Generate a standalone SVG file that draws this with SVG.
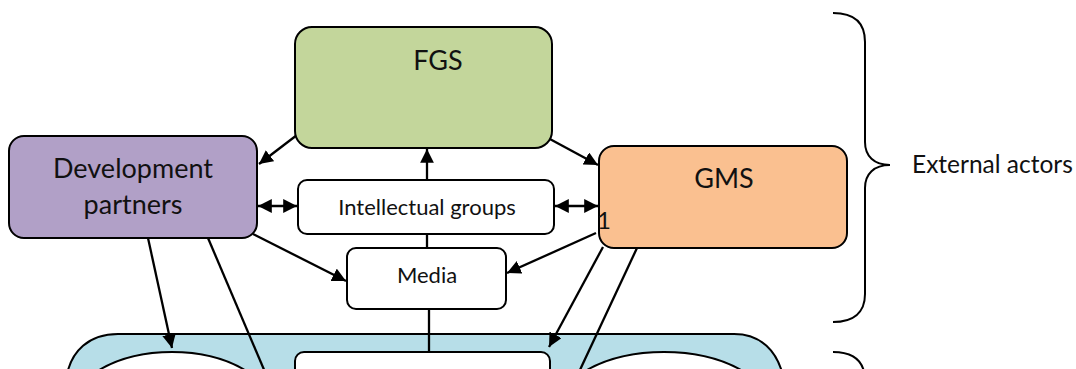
<svg xmlns="http://www.w3.org/2000/svg" width="1076" height="369" viewBox="0 0 1076 369">
  <style>
    .box { stroke: #000; stroke-width: 2; }
    .lbl { font-family: Lato, "Liberation Sans", sans-serif; fill: #111; text-anchor: middle; }
    .big { font-size: 27px; }
    .small { font-size: 22px; }
    .edge { stroke: #000; stroke-width: 2.3; fill: none; }
    .brace { stroke: #000; stroke-width: 2; fill: none; }
  </style>
  <defs>
    <marker id="arrow" viewBox="0 0 10 10" refX="10" refY="5" markerWidth="6" markerHeight="6" markerUnits="strokeWidth" orient="auto-start-reverse">
      <path d="M0,0 L10,5 L0,10 z" fill="#000"/>
    </marker>
  </defs>

  <rect width="1076" height="369" fill="#fff"/>

  <!-- lower organisation band with its inner members -->
  <g id="core">
    <path d="M66,380 C70,350 90,334 118,334 L734,334 C760,334 778,350 784,380 Z" fill="#b7dee8" stroke="#000" stroke-width="2"/>
    <ellipse cx="172" cy="412" rx="102" ry="60" fill="#fff" stroke="#000" stroke-width="2"/>
    <rect x="295" y="352" width="255" height="60" rx="9" fill="#fff" stroke="#000" stroke-width="2"/>
    <ellipse cx="664" cy="412" rx="108" ry="60" fill="#fff" stroke="#000" stroke-width="2"/>
  </g>

  <g id="connectors">
    <line class="edge" x1="297" y1="135" x2="259" y2="164" marker-end="url(#arrow)"/>
    <line class="edge" x1="548" y1="138" x2="598" y2="165" marker-end="url(#arrow)"/>
    <line class="edge" x1="427" y1="180" x2="427" y2="149" marker-end="url(#arrow)"/>
    <line class="edge" x1="258" y1="206" x2="297" y2="206" marker-start="url(#arrow)" marker-end="url(#arrow)"/>
    <line class="edge" x1="555" y1="206" x2="598" y2="206" marker-start="url(#arrow)" marker-end="url(#arrow)"/>
    <line class="edge" x1="427" y1="234" x2="427" y2="248"/>
    <line class="edge" x1="253" y1="234" x2="346" y2="281" marker-end="url(#arrow)"/>
    <line class="edge" x1="596" y1="233" x2="507" y2="273" marker-end="url(#arrow)"/>
    <line class="edge" x1="148" y1="238" x2="172" y2="348" marker-end="url(#arrow)"/>
    <line class="edge" x1="208" y1="238" x2="265" y2="372"/>
    <line class="edge" x1="603" y1="247" x2="549" y2="347" marker-end="url(#arrow)"/>
    <line class="edge" x1="637" y1="248" x2="579" y2="372"/>
    <line class="edge" x1="429" y1="309" x2="429" y2="352"/>
  </g>

  <g id="fgs">
    <rect class="box" x="295" y="27" width="257" height="121" rx="17" fill="#c3d69b"/>
    <text class="lbl big" x="438" y="70">FGS</text>
  </g>

  <g id="development-partners">
    <rect class="box" x="9" y="136" width="248" height="102" rx="15" fill="#b1a0c7"/>
    <text class="lbl big" x="133" y="178">Development</text>
    <text class="lbl big" x="133" y="214">partners</text>
  </g>

  <g id="gms">
    <rect class="box" x="599" y="146" width="248" height="102" rx="15" fill="#fac090"/>
    <text class="lbl big" x="724" y="188">GMS</text>
    <text class="lbl" style="font-size:24px" x="604" y="229">1</text>
  </g>

  <g id="intellectual-groups">
    <rect class="box" x="298" y="180" width="256" height="54" rx="9" fill="#fff"/>
    <text class="lbl small" x="427" y="215">Intellectual groups</text>
  </g>

  <g id="media">
    <rect class="box" x="347" y="248" width="159" height="61" rx="9" fill="#fff"/>
    <text class="lbl small" x="427" y="283">Media</text>
  </g>

  <g id="external-actors">
    <path class="brace" d="M833,13 C853,13 865,22 865,42 L865,142 C865,156 874,165 890,165 C874,165 865,174 865,188 L865,294 C865,313 853,322 833,322"/>
    <text class="lbl" style="font-size:24.5px;text-anchor:start" x="912" y="173">External actors</text>
  </g>

  <g id="internal-brace">
    <path class="brace" d="M833,352 C853,352 865,361 865,381"/>
  </g>
</svg>
